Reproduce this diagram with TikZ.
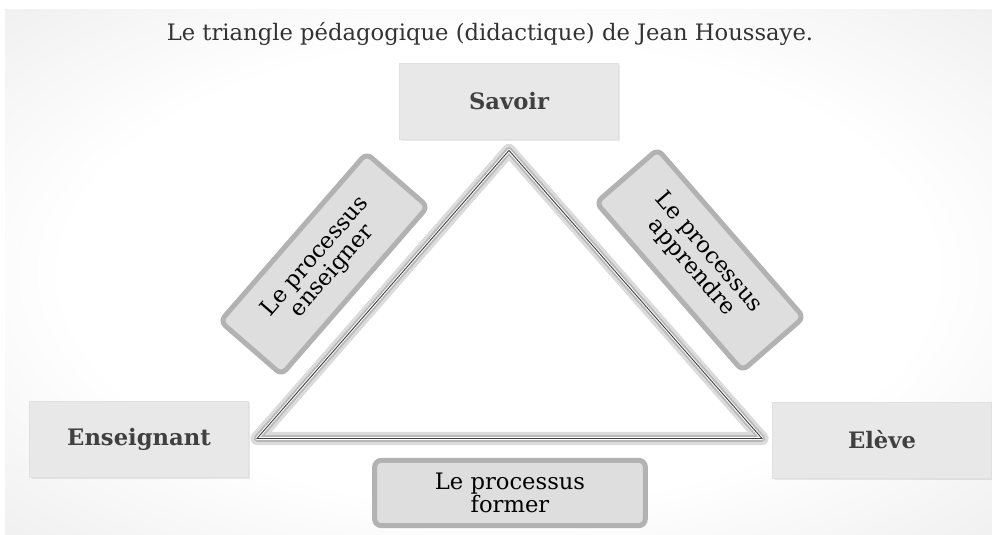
\documentclass[tikz,border=0pt]{standalone}
\usepackage{fontspec}
\setmainfont{DejaVu Serif}
\usepackage{tikz}
\usetikzlibrary{shadows}
\pgfdeclareradialshading{paper}{\pgfpoint{0bp}{0bp}}{color(0bp)=(white); color(22bp)=(white); color(50bp)=(black!12); color(72bp)=(black!20)}

\tikzset{
	labelbox/.style={fill=black!9, draw=black!12, minimum width=164pt, minimum height=57pt,
		text=black!75, font=\fontsize{17}{20}\selectfont\bfseries,
		drop shadow={opacity=0.18, shadow xshift=1.5pt, shadow yshift=-1.5pt}},
	procbox/.style={fill=black!13, draw=black!30, line width=3.75pt, rounded corners=5pt,
		align=center, font=\fontsize{17}{17}\selectfont},
	glow/.style={line join=round, line cap=round}
}

\begin{document}
\begin{tikzpicture}[x=0.75pt,y=0.75pt]
		\useasboundingbox (0,0) rectangle (992,535);
		\fill[white] (0,0) rectangle (992,535);
		\shade[shading=paper] (5,0) rectangle (992,525);
		% title
		\node (title) at (490,501) {\fontsize{17}{20}\selectfont\color{black!80}Le triangle pédagogique (didactique) de Jean Houssaye.};
		% the three poles
		\node[labelbox] (savoir) at (509,433.5) {Savoir};
		\node[labelbox] (enseignant) at (139,95.5) {Enseignant};
		\node[labelbox] (eleve) at (882,95) {Elève};
		% the three processes
		\node[procbox, rotate=49, minimum width=167pt, minimum height=61pt] (enseigner) at (324,271) {Le processus\\enseigner};
		\node[procbox, rotate=-49, minimum width=167pt, minimum height=61pt] (apprendre) at (700,275) {Le processus\\apprendre};
		\node[procbox, minimum width=203pt, minimum height=49pt] (former) at (510,42) {Le processus\\former};
		% triangle
		\coordinate (top) at ([yshift=-8pt]savoir.south);
		\coordinate (left) at (257,96.5);
		\coordinate (right) at (762,96.5);
		\draw[glow, black!14, line width=10pt] (top) -- (left) -- (right) -- cycle;
		\draw[glow, black!28, line width=5pt] (top) -- (left) -- (right) -- cycle;
		\draw[glow, white, line width=2.2pt] (top) -- (left) -- (right) -- cycle;
		\draw[black!75, line width=0.7pt] (top) -- (left) -- (right) -- cycle;
	\end{tikzpicture}
\end{document}
